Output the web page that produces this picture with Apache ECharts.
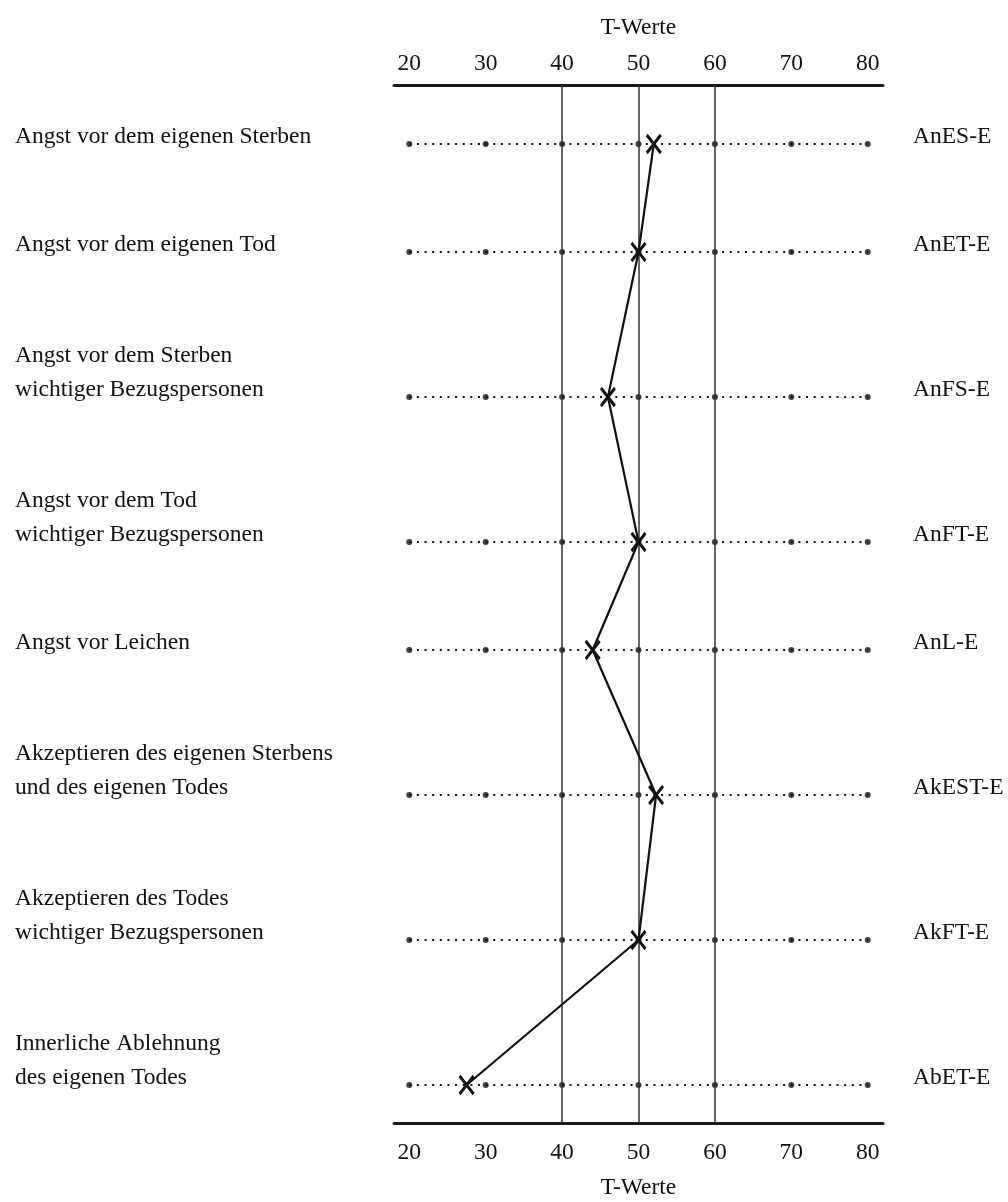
<!DOCTYPE html>
<html>
<head>
<meta charset="utf-8">
<script src="https://cdn.jsdelivr.net/npm/echarts@6/dist/echarts.min.js"></script>
<style>
  html, body { margin: 0; padding: 0; background: #fff; }
  #main { width: 1008px; height: 1202px; }
</style>
</head>
<body>
<div id="main"></div>
<script>
// scales (row labels left, short codes right)
const labels = [
  'Angst vor dem eigenen Sterben',
  'Angst vor dem eigenen Tod',
  'Angst vor dem Sterben\nwichtiger Bezugspersonen',
  'Angst vor dem Tod\nwichtiger Bezugspersonen',
  'Angst vor Leichen',
  'Akzeptieren des eigenen Sterbens\nund des eigenen Todes',
  'Akzeptieren des Todes\nwichtiger Bezugspersonen',
  'Innerliche Ablehnung\ndes eigenen Todes'
];
const codes = ['AnES-E', 'AnET-E', 'AnFS-E', 'AnFT-E', 'AnL-E', 'AkEST-E', 'AkFT-E', 'AbET-E'];
// T-Werte of the profile
const tValues = [52, 50, 46, 50, 44, 52.3, 50, 27.5];
const ticks = [20, 30, 40, 50, 60, 70, 80];
const refLines = [40, 50, 60];

const FONT = 'Liberation Serif';
const FS = 23.5;
const INK = '#111';

// row spacing grows with the number of label lines
const rowPos = [];
labels.forEach(function (l, i) {
  const lines = l.split('\n').length;
  if (i === 0) rowPos.push(59);
  else rowPos.push(rowPos[i - 1] + 108 + 37 * (lines - 1));
});

function rowLabel(value, list) {
  let idx = rowPos.indexOf(value);
  if (idx < 0) return '';
  const lines = list[idx].split('\n');
  return lines.map(function (s, i) {
    return (i < lines.length - 1 ? '{a|' : '{b|') + s + '}';
  }).join('\n');
}

// last line sits on the row, earlier lines stacked above it
const richText = {
  a: { fontFamily: FONT, fontSize: FS, color: INK, lineHeight: 54 },
  b: { fontFamily: FONT, fontSize: FS, color: INK, lineHeight: 14 }
};

function xAxisOpt(pos, margin, gap) {
  return {
    type: 'value',
    position: pos,
    min: 18,
    max: 82,
    name: 'T-Werte',
    nameLocation: 'middle',
    nameGap: gap,
    nameTextStyle: { fontFamily: FONT, fontSize: FS, color: INK },
    axisLine: { show: true, onZero: false, lineStyle: { color: '#1a1a1a', width: 3 } },
    axisTick: { show: false },
    splitLine: { show: false },
    axisLabel: {
      customValues: ticks,
      margin: margin,
      fontFamily: FONT,
      fontSize: FS,
      color: INK
    }
  };
}

function yAxisOpt(pos, list, margin) {
  return {
    type: 'value',
    position: pos,
    min: 0,
    max: 1038,
    inverse: true,
    axisLine: { show: false, onZero: false },
    axisTick: { show: false },
    splitLine: { show: false },
    axisLabel: {
      customValues: rowPos,
      margin: margin,
      align: 'left',
      verticalAlign: 'bottom',
      formatter: function (v) { return rowLabel(v, list); },
      rich: richText
    }
  };
}

const chart = echarts.init(document.getElementById('main'));

const dotted = rowPos.map(function (y) {
  return {
    type: 'line',
    data: [[ticks[0], y], [ticks[ticks.length - 1], y]],
    symbol: 'none',
    silent: true,
    z: 1,
    lineStyle: { color: '#111', width: 2.2, type: [2, 5.63] }
  };
});

const bigDots = [];
rowPos.forEach(function (y) {
  ticks.forEach(function (t) { bigDots.push([t, y]); });
});

chart.setOption({
  animation: false,
  backgroundColor: '#fff',
  grid: { left: 394, right: 125, top: 85, bottom: 79, outerBoundsMode: 'none' },
  xAxis: [xAxisOpt('top', 9, 45), xAxisOpt('bottom', 18, 53)],
  yAxis: [yAxisOpt('left', labels, 379), yAxisOpt('right', codes, 30)],
  series: dotted.concat([
    {
      type: 'scatter',
      data: bigDots,
      symbolSize: 6,
      silent: true,
      z: 2,
      itemStyle: { color: '#111' }
    },
    {
      type: 'line',
      data: tValues.map(function (v, i) { return [v, rowPos[i]]; }),
      symbol: 'path://M0,0L12,16M12,0L0,16',
      symbolSize: [14, 18],
      z: 5,
      lineStyle: { color: '#111', width: 2.2 },
      itemStyle: { color: '#111', borderColor: '#111', borderWidth: 3 },
      markLine: {
        symbol: 'none',
        silent: true,
        label: { show: false },
        lineStyle: { color: '#333', type: 'solid', width: 1.5 },
        data: refLines.map(function (v) { return { xAxis: v }; })
      }
    }
  ])
});
</script>
</body>
</html>
